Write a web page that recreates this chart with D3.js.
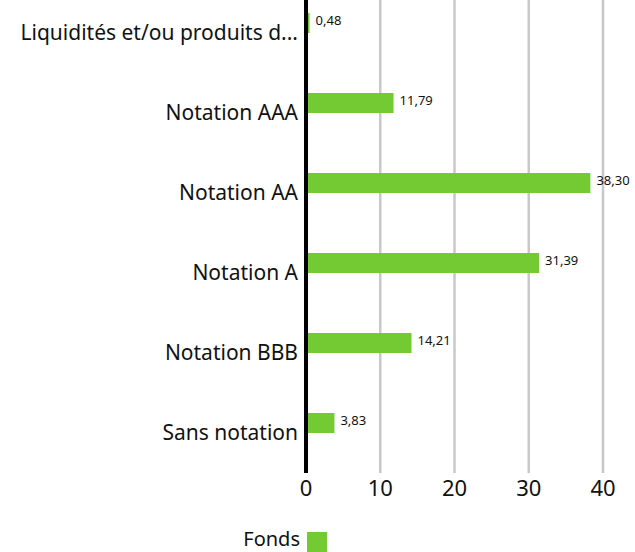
<!DOCTYPE html>
<html>
<head>
<meta charset="utf-8">
<script src="https://cdn.jsdelivr.net/npm/d3@7"></script>
<style>
  body { margin: 0; background: #fff; }
  svg { display: block; font-family: "Noto Sans", sans-serif; }
</style>
</head>
<body>
<div id="chart"></div>
<script>
const WIDTH = 635;
const HEIGHT = 552;
const BAR_COLOR = "#74ca33";
const GRID_COLOR = "#c8c8c8";

// data
const categories = ["Liquidités et/ou produits d...", "Notation AAA", "Notation AA", "Notation A", "Notation BBB", "Sans notation"];
const fondsValues = [0.48, 11.79, 38.30, 31.39, 14.21, 3.83];
const valueLabels = ["0,48", "11,79", "38,30", "31,39", "14,21", "3,83"];
const xTicks = [0, 10, 20, 30, 40];
const seriesName = "Fonds";

var svg = d3.select("#chart")
    .append("svg")
    .attr("width", WIDTH)
    .attr("height", HEIGHT);

var x = d3.scaleLinear().domain([0, 40]).range([306, 603]);
var y = d3.scaleBand().domain(categories).range([-7, 473]);

// gridlines
svg.append("g")
    .selectAll("line")
    .data(xTicks.filter(d => d > 0))
    .enter().append("line")
    .attr("x1", d => x(d)).attr("x2", d => x(d))
    .attr("y1", 0).attr("y2", 473)
    .attr("stroke", GRID_COLOR)
    .attr("stroke-width", 2.5);

// bars (upper half of each band)
svg.append("g")
    .selectAll("rect")
    .data(fondsValues)
    .enter().append("rect")
    .attr("x", x(0))
    .attr("y", (d, i) => y(categories[i]) + y.bandwidth() / 2 - 20)
    .attr("width", d => x(d) - x(0))
    .attr("height", 20)
    .attr("fill", BAR_COLOR);

// value labels
svg.append("g")
    .selectAll("text")
    .data(fondsValues)
    .enter().append("text")
    .attr("x", d => x(d) + 6)
    .attr("y", (d, i) => y(categories[i]) + y.bandwidth() / 2 - 8)
    .attr("font-size", 13)
    .attr("fill", "#111")
    .text((d, i) => valueLabels[i]);

// zero axis line
svg.append("line")
    .attr("x1", x(0)).attr("x2", x(0))
    .attr("y1", 0).attr("y2", 473)
    .attr("stroke", "#000")
    .attr("stroke-width", 4);

// category labels
svg.append("g")
    .selectAll("text")
    .data(categories)
    .enter().append("text")
    .attr("x", 298)
    .attr("y", d => y(d) + y.bandwidth() / 2 + 7)
    .attr("text-anchor", "end")
    .attr("font-size", 21)
    .attr("fill", "#111")
    .text(d => d);

// x tick labels
svg.append("g")
    .selectAll("text")
    .data(xTicks)
    .enter().append("text")
    .attr("x", d => x(d))
    .attr("y", 496)
    .attr("text-anchor", "middle")
    .attr("font-size", 22)
    .attr("fill", "#111")
    .text(d => d);

// legend
var legend = svg.append("g");
legend.append("text")
    .attr("x", 300)
    .attr("y", 546)
    .attr("text-anchor", "end")
    .attr("font-size", 20)
    .attr("fill", "#111")
    .text(seriesName);
legend.append("rect")
    .attr("x", 307).attr("y", 532)
    .attr("width", 20).attr("height", 20)
    .attr("fill", BAR_COLOR);
</script>
</body>
</html>
